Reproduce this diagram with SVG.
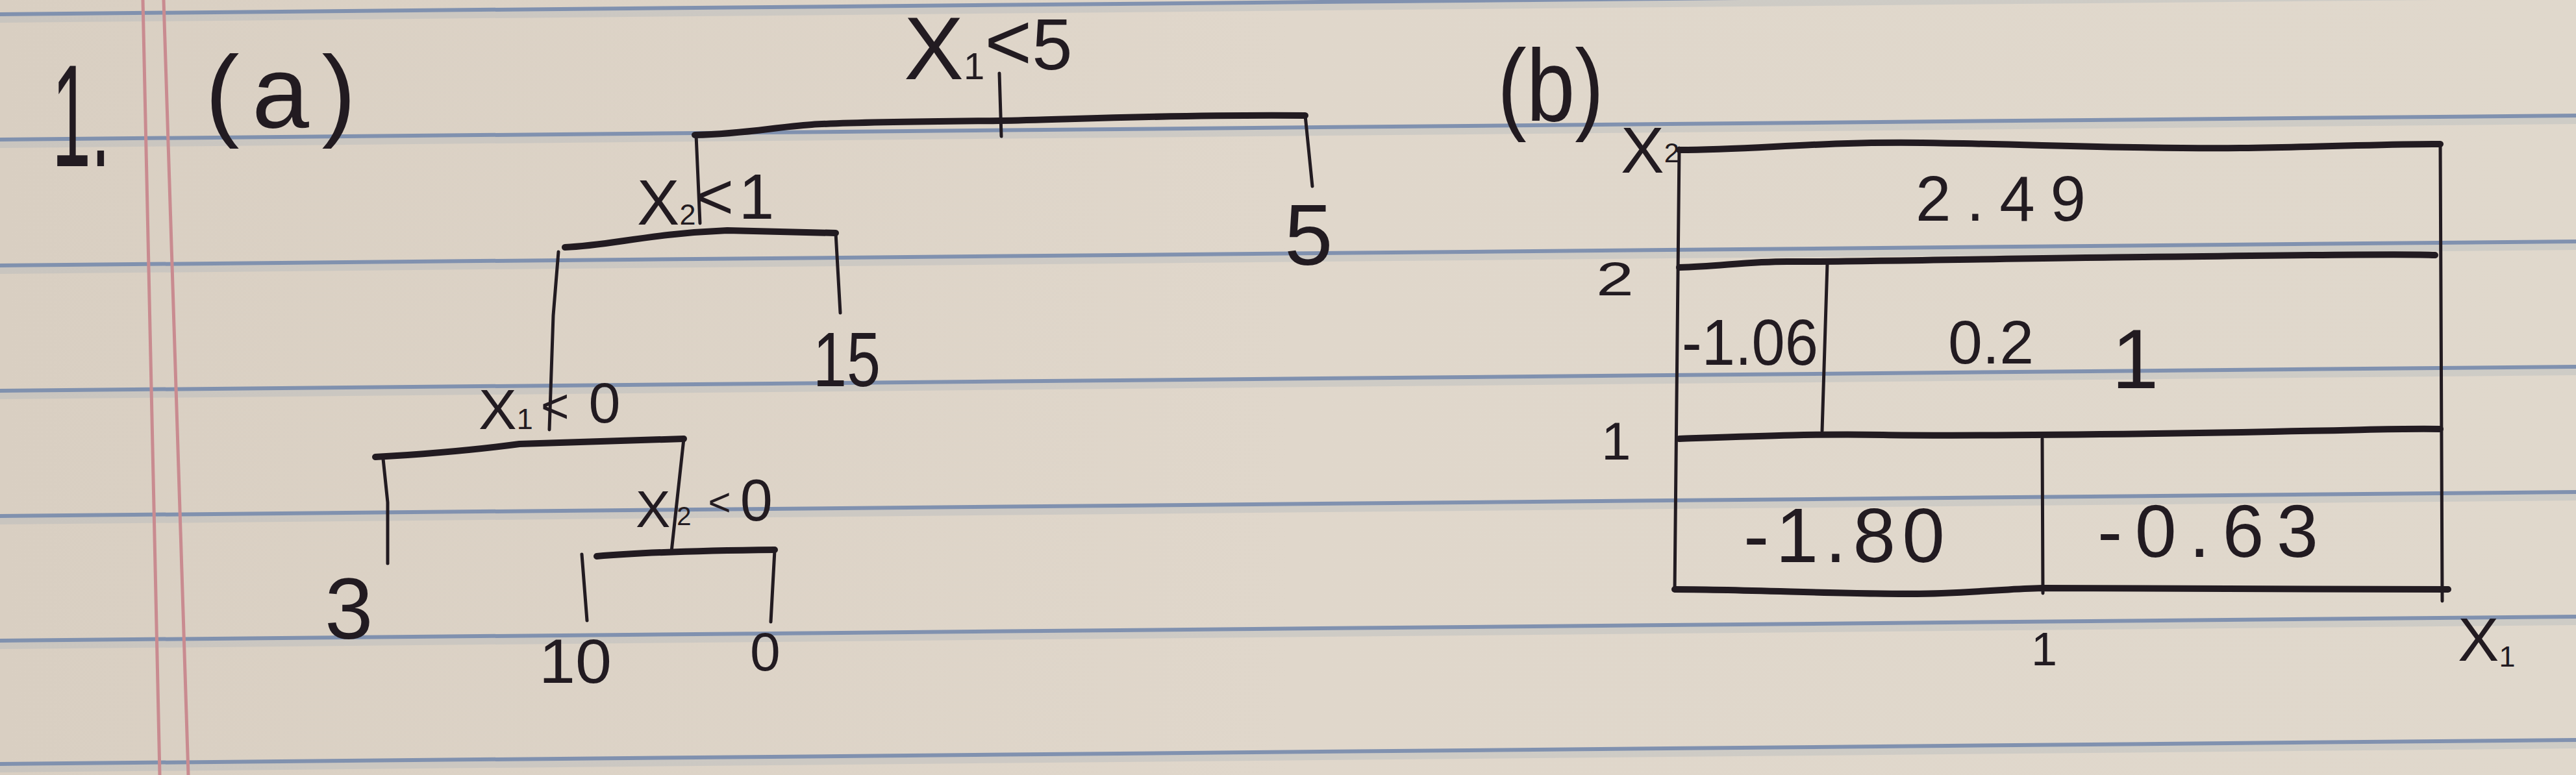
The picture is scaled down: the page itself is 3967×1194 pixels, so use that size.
<svg xmlns="http://www.w3.org/2000/svg" width="3967" height="1194" viewBox="0 0 3967 1194">
<defs>
<linearGradient id="paper" x1="0" y1="0" x2="1" y2="0">
<stop offset="0" stop-color="#d9cfc2"/>
<stop offset="0.5" stop-color="#e0d7cb"/>
<stop offset="1" stop-color="#e0d8cc"/>
</linearGradient>
</defs>
<style>
.rule{stroke:#7589ac;stroke-width:6;fill:none;opacity:0.9}
.band{stroke:#a7afbb;stroke-width:10;fill:none;opacity:0.3}
.margin{stroke:#c98b90;stroke-width:5;fill:none}
.hw{font-family:"Liberation Sans",Arial,sans-serif;fill:#221b21}
.thick{stroke:#221b21;stroke-width:10;fill:none;stroke-linecap:round;stroke-linejoin:round}
.thin{stroke:#221b21;stroke-width:5;fill:none;stroke-linecap:round;stroke-linejoin:round}
</style>
<rect width="3967" height="1194" fill="url(#paper)"/>
<g id="paper-lines">
<line class="band" x1="0" y1="30" x2="3967" y2="-7"/>
<line class="band" x1="0" y1="223" x2="3967" y2="186"/>
<line class="band" x1="0" y1="417" x2="3967" y2="380"/>
<line class="band" x1="0" y1="610" x2="3967" y2="573"/>
<line class="band" x1="0" y1="803" x2="3967" y2="766"/>
<line class="band" x1="0" y1="995" x2="3967" y2="958"/>
<line class="band" x1="0" y1="1185" x2="3967" y2="1148"/>
<line class="rule" x1="0" y1="22" x2="3967" y2="-15"/>
<line class="rule" x1="0" y1="215" x2="3967" y2="178"/>
<line class="rule" x1="0" y1="409" x2="3967" y2="372"/>
<line class="rule" x1="0" y1="602" x2="3967" y2="565"/>
<line class="rule" x1="0" y1="795" x2="3967" y2="758"/>
<line class="rule" x1="0" y1="987" x2="3967" y2="950"/>
<line class="rule" x1="0" y1="1177" x2="3967" y2="1140"/>
<path class="margin" d="M220,0 Q230,400 246,1194"/>
<path class="margin" d="M252,0 Q266,400 290,1194"/>
</g>
<g id="title">
<text class="hw" x="80" y="256" font-size="225" textLength="90" lengthAdjust="spacingAndGlyphs">1.</text>
<text class="hw" x="316" y="196" font-size="158" textLength="232">(a)</text>
</g>
<g id="connectors">
<path class="thin" d="M1539,113 L1542,210"/>
<path class="thick" d="M1070,208 C1150,206 1190,196 1250,192 S1450,187 1540,186 S1800,176 2010,178"/>
<path class="thin" d="M2010,178 L2021,287"/>
<path class="thin" d="M1072,208 L1078,344"/>
<path class="thick" d="M870,381 C940,378 1000,360 1120,355 L1287,359"/>
<path class="thin" d="M1287,359 L1294,482"/>
<path class="thin" d="M860,388 L852,486 L846,662"/>
<path class="thick" d="M578,704 C650,700 740,692 800,684 L1053,676"/>
<path class="thin" d="M590,707 L597,774 L597,868"/>
<path class="thin" d="M1053,676 L1034,850"/>
<path class="thick" d="M919,857 C1000,850 1100,848 1193,847"/>
<path class="thin" d="M1193,848 L1187,958"/>
<path class="thin" d="M896,854 L904,956"/>
</g>
<g id="node-root">
<text class="hw" x="1392" y="122" font-size="138">X<tspan font-size="58">1</tspan><tspan font-size="125" dy="-15">&lt;</tspan><tspan font-size="112">5</tspan></text>
</g>
<g id="node-x2-lt-1">
<text class="hw" x="981" y="346" font-size="98">X<tspan font-size="45">2</tspan><tspan font-size="100" dy="-9">&lt;</tspan><tspan dx="8">1</tspan></text>
</g>
<g id="node-x1-lt-0">
<text class="hw" x="737" y="661" font-size="88">X<tspan font-size="45">1</tspan><tspan font-size="75" dx="12" dy="-10">&lt;</tspan><tspan font-size="88" dx="30">0</tspan></text>
</g>
<g id="node-x2-lt-0">
<text class="hw" x="979" y="812" font-size="80">X<tspan font-size="40" dx="10" dy="-3">2</tspan><tspan font-size="60" dx="26" dy="-15">&lt;</tspan><tspan font-size="90" dx="14" dy="8">0</tspan></text>
</g>
<g id="leaf-5"><text class="hw" x="1978" y="408" font-size="134">5</text></g>
<g id="leaf-15"><text class="hw" x="1252" y="595" font-size="118" textLength="104" lengthAdjust="spacingAndGlyphs">15</text></g>
<g id="leaf-3"><text class="hw" x="500" y="984" font-size="134">3</text></g>
<g id="leaf-10"><text class="hw" x="830" y="1052" font-size="96" textLength="112" lengthAdjust="spacingAndGlyphs">10</text></g>
<g id="leaf-0"><text class="hw" x="1155" y="1033" font-size="84">0</text></g>
<g id="partition-plot">
<text class="hw" x="2306" y="186" font-size="158" textLength="164" lengthAdjust="spacingAndGlyphs">(b)</text>
<text class="hw" x="2496" y="266" font-size="100">X<tspan font-size="42" dy="-16">2</tspan></text>
<text class="hw" x="2458" y="455" font-size="72" textLength="58" lengthAdjust="spacingAndGlyphs">2</text>
<text class="hw" x="2466" y="708" font-size="82">1</text>
<text class="hw" x="3128" y="1025" font-size="72">1</text>
<text class="hw" x="3785" y="1018" font-size="95">X<tspan font-size="45" dy="9">1</tspan></text>
<path class="thick" d="M2586,231 C2700,231 2800,218 2960,220 S3300,230 3450,228 S3700,221 3758,222"/>
<path class="thin" d="M2586,228 L2579,910"/>
<path class="thin" d="M3758,222 L3761,926"/>
<path class="thick" d="M2586,412 C2650,410 2700,402 2760,403 S3100,398 3300,396 S3700,390 3750,393"/>
<path class="thin" d="M2814,406 L2806,664"/>
<path class="thick" d="M2586,676 C2700,672 2800,668 2900,670 S3300,669 3500,665 S3700,660 3758,661"/>
<path class="thin" d="M3145,676 L3146,914"/>
<path class="thick" d="M2579,908 C2700,908 2900,918 2990,914 S3100,907 3145,906 S3500,908 3770,908"/>
<text class="hw" x="2950" y="340" font-size="98" textLength="262">2.49</text>
<text class="hw" x="2590" y="562" font-size="100" textLength="210" lengthAdjust="spacingAndGlyphs">-1.06</text>
<text class="hw" x="3000" y="560" font-size="95">0.2<tspan font-size="130" dx="120" dy="38">1</tspan></text>
<text class="hw" x="2685" y="866" font-size="118" textLength="310">-1.80</text>
<text class="hw" x="3230" y="858" font-size="115" textLength="340">-0.63</text>
</g>
</svg>
